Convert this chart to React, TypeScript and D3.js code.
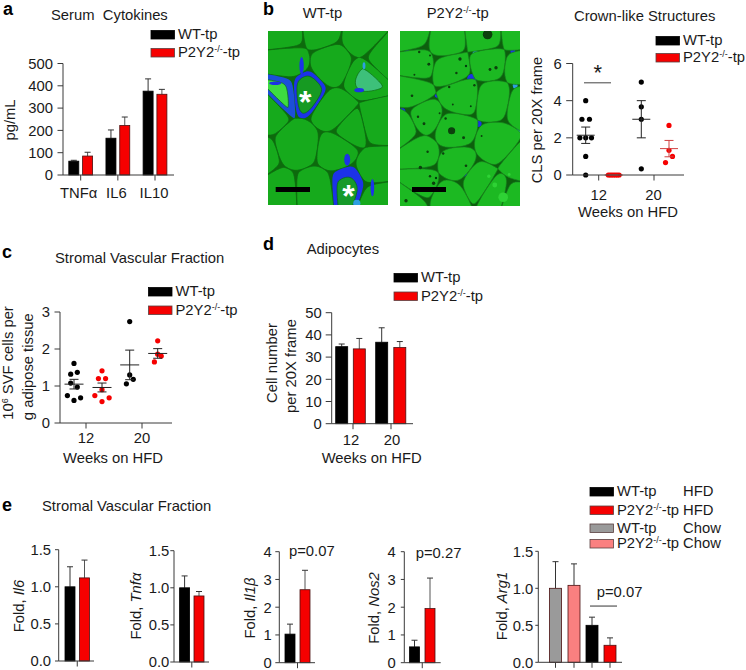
import React from "react";
import * as d3 from "d3";

const FONT = "'Liberation Sans', Arial, sans-serif";
const AXIS = "#3a3a3a";
const RED = "#f60000";
const BLACK = "#000";
const GRAY = "#9a9a9a";
const PINK = "#fa8080";

// panel a
const cytokines = ["TNFα", "IL6", "IL10"];
const cytoWt = [62, 165, 376];
const cytoWtErr = [4, 37, 55];
const cytoKo = [85, 222, 362];
const cytoKoErr = [17, 38, 22];

// panel b
const clsWt12 = [0, 1, 2, 2, 2, 3, 3, 4];
const clsWt12Slot = [0, 0, -1, 0, 1, -0.65, 0.65, 0];
const clsKo12 = [0, 0, 0, 0, 0, 0, 0];
const clsKo12Slot = [-1.5, -1, -0.5, 0, 0.5, 1, 1.5];
const clsWt20 = [5, 3.67, 3, 0.33];
const clsWt20Slot = [0, 0, 0, 0];
const clsKo20 = [2.67, 1.33, 1, 0.67];
const clsKo20Slot = [0, 0, 0.6, -0.6];
const clsMean = [2.14, 0, 3, 1.42];
const clsErr = [0.44, 0, 1, 0.44];

// panel c
const svfWt12 = [1.61, 1.32, 1.37, 1.08, 0.97, 0.74, 0.61, 0.68];
const svfWt12Slot = [0, -0.6, 0.6, -0.6, 0.6, -1.2, 0, 1.2];
const svfKo12 = [1.41, 1.2, 1.2, 0.9, 0.74, 0.68, 0.58];
const svfKo12Slot = [0, -0.65, 0.65, 0, -1.3, 1.3, 0];
const svfWt20 = [2.74, 1.3, 1.06, 1.18];
const svfWt20Slot = [0, 0, -0.6, 0.65];
const svfKo20 = [2.22, 1.86, 1.81, 1.65];
const svfKo20Slot = [0, 0, 0.65, -0.6];
const svfMean = [1.05, 0.96, 1.57, 1.88];
const svfErr = [0.13, 0.12, 0.4, 0.13];

// panel d
const weeks = ["12", "20"];
const adipoWt = [34.7, 36.7];
const adipoWtErr = [1.2, 6.5];
const adipoKo = [33.7, 34.3];
const adipoKoErr = [4.7, 2.7];

// panel e
const il6Vals = [1.0, 1.12];
const il6Errs = [0.27, 0.24];
const tnfaVals = [1.0, 0.89];
const tnfaErrs = [0.16, 0.06];
const il1bVals = [1.03, 2.63];
const il1bErrs = [0.36, 0.7];
const nos2Vals = [0.57, 1.95];
const nos2Errs = [0.24, 1.1];
const arg1Vals = [1.0, 1.04, 0.5, 0.23];
const arg1Errs = [0.36, 0.29, 0.11, 0.1];

const tick15 = [0, 0.5, 1, 1.5];
const tick4 = [0, 1, 2, 3, 4];

// micrograph cell centres, in image fractions
const wtCells: [number, number][] = [[.146,.015],[.435,-.004],[.79,.034],[.17,.18],[.53,.187],[.97,.15],[.3,.34],[.13,.35],[.81,.27],[.57,.465],[-.02,.455],[.89,.52],[.7,.55],[.256,.665],[.567,.694],[.89,.8],[.077,.914],[.394,.904],[.67,.885],[.917,.95],[-.09,.74]];
const wtFill: Record<number, string> = { 6: "#149a24", 7: "#3ddc40", 8: "#3cc07a", 18: "#129a2a" };
const wtHalo: Record<number, [string, number]> = { 6: ["#1c30e8", 0.8], 7: ["#1c50d8", 0.62], 8: ["#16aa1c", 0.55], 18: ["#1c30e8", 0.68] };
const koCells: [number, number][] = [[.1,.02],[.38,.06],[.72,.03],[.97,.02],[.14,.19],[.42,.22],[.75,.18],[1,.2],[.1,.35],[.5,.37],[.79,.39],[1.02,.42],[.2,.49],[.44,.57],[.81,.65],[.02,.55],[.17,.7],[.47,.76],[1,.76],[.66,.86],[.18,.87],[.4,.95],[.07,.98],[.95,.95],[.8,.92]];
const wtBlue: [number, number, number, number][] = [[.28,.2,.018,.05],[.06,.3,.05,.01],[.8,.2,.012,.02],[.66,.74,.025,.035],[.87,.9,.015,.05],[.74,.99,.03,.02],[.76,.34,.04,.012]];
const koBlue: [number, number, number, number][] = [[.94,.1,.02,.05],[.6,.27,.04,.025],[.63,.13,.025,.018],[.65,.53,.03,.018],[.06,.13,.03,.02],[.99,.53,.025,.06],[.09,.58,.025,.022],[.5,.82,.07,.012],[.96,.31,.02,.02],[.32,.37,.03,.012],[.02,.46,.025,.018],[.3,.25,.02,.012]];
const koSpots: [number, number, number][] = [[.73,.02,.04],[.43,.57,.03],[.24,.19,.012],[.16,.12,.01],[.5,.16,.014],[.55,.2,.01],[.75,.22,.012],[.8,.21,.014],[.1,.37,.011],[.47,.24,.01],[.53,.61,.012],[.38,.5,.01],[.2,.53,.012],[.15,.49,.01],[.17,.78,.014],[.55,.77,.011],[.23,.69,.01],[.28,.87,.014],[.25,.83,.01],[.3,.84,.01],[.05,.97,.014],[.62,.31,.01],[.41,.32,.01],[.68,.6,.008],[.36,.7,.01],[.25,.14,.008],[.59,.43,.008],[.33,.47,.008],[.12,.25,.008],[.44,.42,.008]];
const koBubbles: [number, number, number][] = [[.86,.95,.04],[.79,.88,.02],[.74,.83,.014],[.91,.82,.012]];
const starsWt: [number, number][] = [[.31,.395],[.67,.935]];

const T = ({ x, y, size = 14.8, anchor = "start", weight, fill = "#1a1a1a", children, rotate }: any) => (
  <text x={x} y={y} fontSize={size} textAnchor={anchor} fontWeight={weight} fill={fill} fontFamily={FONT}
    transform={rotate ? `rotate(${rotate} ${x} ${y})` : undefined}>{children}</text>
);

const KoName = () => (
  <>
    P2Y2<tspan dy={-5} fontSize={9}>-/-</tspan><tspan dy={5}>-tp</tspan>
  </>
);

const Legend = ({ x, ys, colors, labels, right }: any) => (
  <g>
    {labels.map((l: any, i: number) => (
      <g key={i}>
        <rect x={x} y={ys[i] - 8.5} width={23.5} height={8.5} fill={colors[i]} stroke={colors[i] === BLACK ? "#000" : "#5a4040"} strokeWidth={0.8} />
        <T x={x + 27} y={ys[i]}>{l}</T>
        {right && <T x={x + 93} y={ys[i]}>{right[i]}</T>}
      </g>
    ))}
  </g>
);

const YAxis = ({ y, x0, ticks, fmt, tickLen = 5.5, gap = 4.5, size = 14.8 }: any) => {
  const [lo, hi] = y.domain();
  return (
    <g>
      <line x1={x0} x2={x0} y1={y(lo)} y2={y(hi)} stroke={AXIS} strokeWidth={1} />
      {ticks.map((t: number) => (
        <g key={t}>
          <line x1={x0 - tickLen} x2={x0} y1={y(t)} y2={y(t)} stroke={AXIS} strokeWidth={1} />
          <T x={x0 - tickLen - gap} y={y(t) + size * 0.36} anchor="end" size={size}>{fmt ? fmt(t) : t}</T>
        </g>
      ))}
    </g>
  );
};

const XBase = ({ x0, x1, y0, ticks }: any) => (
  <g>
    <line x1={x0} x2={x1} y1={y0} y2={y0} stroke={AXIS} strokeWidth={1} />
    {ticks.map((t: number, i: number) => (
      <line key={i} x1={t} x2={t} y1={y0} y2={y0 + 5.5} stroke={AXIS} strokeWidth={1} />
    ))}
  </g>
);

const Bar = ({ cx, w, v, e, y, fill }: any) => (
  <g>
    <line x1={cx} x2={cx} y1={y(v)} y2={y(v + e)} stroke={fill === RED ? "#555" : "#333"} strokeWidth={1} />
    <line x1={cx - 3} x2={cx + 3} y1={y(v + e)} y2={y(v + e)} stroke="#333" strokeWidth={1} />
    <rect x={cx - w / 2} y={y(v)} width={w} height={y(0) - y(v)} fill={fill} stroke={fill === BLACK ? "#000" : "#4a1010"} strokeWidth={0.8} />
  </g>
);

const Dots = ({ vals, slots, cx, y, fill, unit, r = 2.6 }: any) => (
  <g>
    {vals.map((v: number, i: number) => (
      <circle key={i} cx={cx + slots[i] * unit} cy={y(v)} r={r} fill={fill} />
    ))}
  </g>
);

const MeanErr = ({ cx, m, e, y, color, half, cap }: any) => (
  <g stroke={color} strokeWidth={1} fill="none">
    <line x1={cx - half} x2={cx + half} y1={y(m)} y2={y(m)} />
    <line x1={cx} x2={cx} y1={y(m - e)} y2={y(m + e)} />
    <line x1={cx - cap} x2={cx + cap} y1={y(m - e)} y2={y(m - e)} />
    <line x1={cx - cap} x2={cx + cap} y1={y(m + e)} y2={y(m + e)} />
  </g>
);

// rounded outline of a Voronoi cell, optionally scaled about its centroid
const roundCell = (poly: number[][], round: number, scale = 1) => {
  const ring = poly.slice(0, -1);
  const [cx, cy] = d3.polygonCentroid(ring as any);
  const scaled = ring.map(([px, py]) => [cx + (px - cx) * scale, cy + (py - cy) * scale]);
  const pts: number[][] = [];
  scaled.forEach((p, i) => {
    const q = scaled[(i + 1) % scaled.length];
    const ln = Math.hypot(q[0] - p[0], q[1] - p[1]) || 1;
    const r = Math.min(0.45, round / ln);
    pts.push([p[0] + (q[0] - p[0]) * r, p[1] + (q[1] - p[1]) * r]);
    pts.push([q[0] + (p[0] - q[0]) * r, q[1] + (p[1] - q[1]) * r]);
  });
  return d3.line().curve(d3.curveBasisClosed)(pts as any) as string;
};

const Micrograph = ({ id, x, y, w, h, cells, blue, spots, bubbles = [], fill, fills = {}, halos = {}, edge, under, round, blueBelow }: any) => {
  const pts = cells.map(([a, b]: number[]) => [a * w, b * h]);
  const vor = d3.Delaunay.from(pts).voronoi([-40, -40, w + 40, h + 40]);
  const polys = pts.map((_: any, i: number) => vor.cellPolygon(i) as unknown as number[][]);
  const blueMarks = blue.map(([a, b, rx, ry]: number[], i: number) => (
    <ellipse key={i} cx={a * w} cy={b * h} rx={rx * w} ry={ry * h} fill={i % 3 === 2 ? "#2f9fe0" : "#1c30e8"} />
  ));
  return (
    <g transform={`translate(${x},${y})`}>
      <clipPath id={id}><rect width={w} height={h} /></clipPath>
      <g clipPath={`url(#${id})`}>
        <g filter="url(#soft)">
          <rect width={w} height={h} fill={under} />
          {blueBelow && blueMarks}
          {polys.map((p: number[][], i: number) => (
            <g key={i}>
              {halos[i] && <path d={roundCell(p, round)} fill={halos[i][0]} />}
              <path d={roundCell(p, round, halos[i] ? halos[i][1] : 1)} fill={fills[i] || fill} stroke={edge} strokeWidth={0.7} />
            </g>
          ))}
          {!blueBelow && blueMarks}
          {bubbles.map(([a, b, r]: number[], i: number) => (
            <circle key={i} cx={a * w} cy={b * h} r={r * w} fill="#2fd235" />
          ))}
          {spots.map(([a, b, r]: number[], i: number) => (
            <circle key={i} cx={a * w} cy={b * h} r={r * w} fill="#073f0c" />
          ))}
        </g>
      </g>
    </g>
  );
};

export default function App() {
  const ya = d3.scaleLinear().domain([0, 500]).range([175, 63.5]);
  const xa = d3.scalePoint<string>().domain(cytokines).range([80.7, 155]);
  const yb = d3.scaleLinear().domain([0, 6]).range([175, 63.5]);
  const xbGroups = [585.7, 613.7, 641.3, 669];
  const yc = d3.scaleLinear().domain([0, 3]).range([423, 312]);
  const xcGroups = [74, 102, 129.7, 157.7];
  const yd = d3.scaleLinear().domain([0, 50]).range([423.7, 312.7]);
  const xd = d3.scalePoint<string>().domain(weeks).range([353, 391]);
  const ye1 = d3.scaleLinear().domain([0, 1.5]).range([661, 549.7]);
  const ye2 = d3.scaleLinear().domain([0, 1.5]).range([662, 550.7]);
  const ye3 = d3.scaleLinear().domain([0, 4]).range([662.7, 551.7]);
  const ye5 = d3.scaleLinear().domain([0, 1.5]).range([662.3, 551.3]);
  const f1 = (t: number) => t.toFixed(1);
  const two = [BLACK, RED];
  const arg = [GRAY, PINK, BLACK, RED];

  const foldPanel = (yS: any, x0: number, x1: number, vals: number[], errs: number[], ticks: number[], fmt: any, cx: number[], w: number, tl: number, gap: number) => (
    <g>
      {vals.map((v, i) => <Bar key={i} cx={cx[i]} w={w} v={v} e={errs[i]} y={yS} fill={(vals.length === 2 ? two : arg)[i]} />)}
      <YAxis y={yS} x0={x0} ticks={ticks} fmt={fmt} tickLen={tl} gap={gap} />
      <XBase x0={x0} x1={x1} y0={yS(0)} ticks={vals.length === 2 ? [(cx[0] + cx[1]) / 2] : cx} />
    </g>
  );

  return (
    <svg width={746} height={670} style={{ position: "absolute", left: 0, top: 0, background: "#fff" }}>
      <defs>
        <filter id="soft" x="-5%" y="-5%" width="110%" height="110%"><feGaussianBlur stdDeviation="0.55" /></filter>
      </defs>
      {/* panel letters */}
      <T x={3} y={15} size={18} weight="bold" fill="#000">a</T>
      <T x={263} y={15} size={18} weight="bold" fill="#000">b</T>
      <T x={2} y={258} size={18} weight="bold" fill="#000">c</T>
      <T x={263} y={250} size={18} weight="bold" fill="#000">d</T>
      <T x={2} y={511} size={18} weight="bold" fill="#000">e</T>

      {/* a */}
      <T x={51} y={20}>Serum&#160;&#160;Cytokines</T>
      <Legend x={151} ys={[39, 57]} colors={two} labels={["WT-tp", <KoName />]} />
      {cytokines.map((c, i) => (
        <g key={c}>
          <Bar cx={xa(c)! - 6.9} w={10} v={cytoWt[i]} e={cytoWtErr[i]} y={ya} fill={BLACK} />
          <Bar cx={xa(c)! + 6.9} w={10} v={cytoKo[i]} e={cytoKoErr[i]} y={ya} fill={RED} />
          <T x={xa(c)! - 2 + i * 0.5} y={198} anchor="middle">{c}</T>
        </g>
      ))}
      <YAxis y={ya} x0={63} ticks={[0, 100, 200, 300, 400, 500]} />
      <XBase x0={63} x1={174} y0={ya(0)} ticks={cytokines.map((c) => xa(c))} />
      <T x={15} y={120} anchor="middle" rotate={-90}>pg/mL</T>

      {/* b images */}
      <T x={302.7} y={17.5}>WT-tp</T>
      <T x={426.7} y={18}><KoName /></T>
      <Micrograph id="wtimg" x={268} y={31} w={120} h={174} cells={wtCells} fills={wtFill} halos={wtHalo} blue={wtBlue} spots={[]} fill="#16aa1c" edge="#0a6a10" under="#0a6a10" round={4} />
      <Micrograph id="koimg" x={400} y={31} w={120} h={175} cells={koCells} blue={koBlue} spots={koSpots} bubbles={koBubbles} fill="#1fb924" edge="#14801a" under="#0a5f10" round={5} blueBelow />
      {starsWt.map(([a, b], i) => (
        <T key={i} x={268 + a * 120} y={31 + b * 174 + 13} size={32} weight="bold" fill="#fff" anchor="middle">*</T>
      ))}
      <rect x={275.7} y={187} width={34.3} height={5} fill="#000" />
      <rect x={412} y={187} width={34} height={5} fill="#000" />

      {/* b chart */}
      <T x={574} y={20.7}>Crown-like Structures</T>
      <Legend x={656} ys={[45, 62]} colors={two} labels={["WT-tp", <KoName />]} />
      <Dots vals={clsWt12} slots={clsWt12Slot} cx={xbGroups[0]} y={yb} fill="#000" unit={5.8} />
      <Dots vals={clsKo12} slots={clsKo12Slot} cx={xbGroups[1]} y={yb} fill={RED} unit={3.6} />
      <Dots vals={clsWt20} slots={clsWt20Slot} cx={xbGroups[2]} y={yb} fill="#000" unit={5.8} />
      <Dots vals={clsKo20} slots={clsKo20Slot} cx={xbGroups[3]} y={yb} fill={RED} unit={5.8} />
      {clsMean.map((m, i) => (
        <MeanErr key={i} cx={xbGroups[i]} m={m} e={clsErr[i]} y={yb} color={i % 2 ? "#d04040" : "#222"} half={9} cap={4.5} />
      ))}
      <line x1={584} x2={611} y1={yb(4.96)} y2={yb(4.96)} stroke="#444" strokeWidth={1} />
      <T x={597.7} y={yb(4.96) - 3} size={22} anchor="middle">*</T>
      <YAxis y={yb} x0={572.7} ticks={[0, 2, 4, 6]} tickLen={6.5} />
      <XBase x0={572.7} x1={684} y0={yb(0)} ticks={[598.7, 654]} />
      <T x={598.7} y={200} anchor="middle">12</T>
      <T x={653.5} y={200} anchor="middle">20</T>
      <T x={628} y={217} anchor="middle">Weeks on HFD</T>
      <T x={541.7} y={120} anchor="middle" rotate={-90}>CLS per 20X frame</T>

      {/* c */}
      <T x={55} y={262.7}>Stromal Vascular Fraction</T>
      <Legend x={148.5} ys={[296, 314.5]} colors={two} labels={["WT-tp", <KoName />]} />
      <Dots vals={svfWt12} slots={svfWt12Slot} cx={xcGroups[0]} y={yc} fill="#000" unit={5.5} />
      <Dots vals={svfKo12} slots={svfKo12Slot} cx={xcGroups[1]} y={yc} fill={RED} unit={5.5} />
      <Dots vals={svfWt20} slots={svfWt20Slot} cx={xcGroups[2]} y={yc} fill="#000" unit={5.5} />
      <Dots vals={svfKo20} slots={svfKo20Slot} cx={xcGroups[3]} y={yc} fill={RED} unit={5.5} />
      {svfMean.map((m, i) => (
        <MeanErr key={i} cx={xcGroups[i]} m={m} e={svfErr[i]} y={yc} color="#222" half={9.5} cap={4.5} />
      ))}
      <YAxis y={yc} x0={60} ticks={[0, 1, 2, 3]} />
      <XBase x0={60} x1={172} y0={yc(0)} ticks={[86, 142]} />
      <T x={86} y={443} anchor="middle">12</T>
      <T x={142} y={443} anchor="middle">20</T>
      <T x={113} y={462.7} anchor="middle">Weeks on HFD</T>
      <T x={12.7} y={363} anchor="middle" rotate={-90}>10<tspan dy={-5} fontSize={9}>6</tspan><tspan dy={5}> SVF cells per</tspan></T>
      <T x={32.7} y={366.7} anchor="middle" rotate={-90}>g adipose tissue</T>

      {/* d */}
      <T x={306.7} y={254}>Adipocytes</T>
      <Legend x={394} ys={[282, 300.5]} colors={two} labels={["WT-tp", <KoName />]} />
      {weeks.map((c, i) => (
        <g key={c}>
          <Bar cx={xd(c)! - 11.3 + i * 2} w={12} v={adipoWt[i]} e={adipoWtErr[i]} y={yd} fill={BLACK} />
          <Bar cx={xd(c)! + 6.3 + i * 2.5} w={12} v={adipoKo[i]} e={adipoKoErr[i]} y={yd} fill={RED} />
          <T x={i ? 392 : 351} y={445} anchor="middle">{c}</T>
        </g>
      ))}
      <YAxis y={yd} x0={331.7} ticks={[0, 10, 20, 30, 40, 50]} tickLen={6} gap={4} />
      <XBase x0={331.7} x1={413} y0={yd(0)} ticks={weeks.map((c) => xd(c))} />
      <T x={371.7} y={463} anchor="middle">Weeks on HFD</T>
      <T x={276.7} y={363} anchor="middle" rotate={-90}>Cell number</T>
      <T x={296} y={366} anchor="middle" rotate={-90}>per 20X frame</T>

      {/* e */}
      <T x={42} y={511}>Stromal Vascular Fraction</T>
      <Legend x={590} ys={[496, 514.5, 532.5, 548]} colors={[BLACK, RED, GRAY, PINK]}
        labels={["WT-tp", <KoName />, "WT-tp", <KoName />]} right={["HFD", "HFD", "Chow", "Chow"]} />
      {foldPanel(ye1, 58.7, 94, il6Vals, il6Errs, tick15, f1, [70, 84.5], 10, 3.7, 4)}
      {foldPanel(ye2, 174, 209, tnfaVals, tnfaErrs, tick15, f1, [184.6, 199], 10, 3.7, 1)}
      {foldPanel(ye3, 279.3, 315, il1bVals, il1bErrs, tick4, null, [290, 305], 10, 4, 3.5)}
      {foldPanel(ye3, 404.3, 440.7, nos2Vals, nos2Errs, tick4, null, [414.5, 430], 10, 3.5, 5)}
      {foldPanel(ye5, 538.3, 622, arg1Vals, arg1Errs, tick15, f1, [555.5, 574, 592, 610], 12, 3, 2)}
      <T x={24} y={606} anchor="middle" rotate={-90}>Fold, <tspan fontStyle="italic">Il6</tspan></T>
      <T x={140.7} y={606} anchor="middle" rotate={-90}>Fold, <tspan fontStyle="italic">Tnfα</tspan></T>
      <T x={255} y={608} anchor="middle" rotate={-90}>Fold, <tspan fontStyle="italic">Il1β</tspan></T>
      <T x={379} y={608} anchor="middle" rotate={-90}>Fold, <tspan fontStyle="italic">Nos2</tspan></T>
      <T x={506.7} y={606} anchor="middle" rotate={-90}>Fold, <tspan fontStyle="italic">Arg1</tspan></T>
      <T x={289} y={556}>p=0.07</T>
      <T x={415.7} y={558}>p=0.27</T>
      <T x={596.7} y={597}>p=0.07</T>
      <line x1={590} x2={617} y1={ye5(0.76)} y2={ye5(0.76)} stroke="#333" strokeWidth={1} />
    </svg>
  );
}
